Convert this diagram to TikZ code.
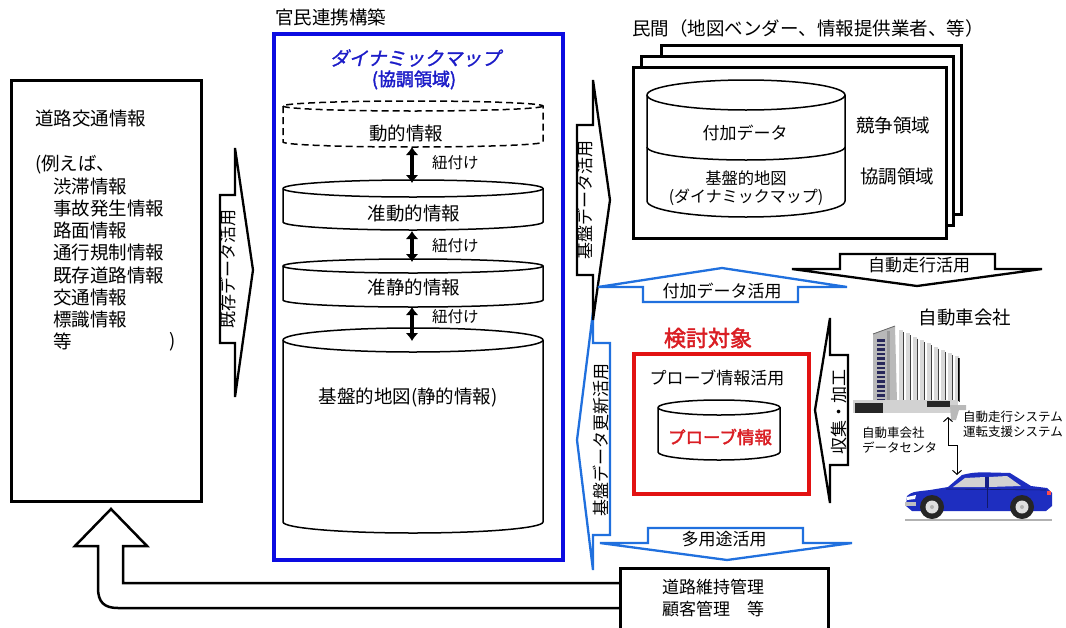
\documentclass[tikz,border=0pt]{standalone}
\usepackage{fontspec}
\setmainfont{Noto Sans CJK JP}
\newfontfamily\jpbold[FakeBold=2.2]{Noto Sans CJK JP}
\newfontfamily\jpslant[FakeSlant=0.22,FakeBold=1.2]{Noto Sans CJK JP}
\usetikzlibrary{arrows.meta}
\newcommand{\fsz}[1]{\fontsize{#1}{#1}\selectfont}
\definecolor{boxblue}{RGB}{12,12,225}
\definecolor{dynblue}{RGB}{28,28,200}
\definecolor{arrowblue}{RGB}{32,112,222}
\definecolor{redc}{RGB}{226,18,18}
\definecolor{redtext}{RGB}{218,30,36}
\definecolor{carblue}{RGB}{30,46,192}
\definecolor{navy}{RGB}{40,40,90}

% cylinder: style, x1, x2, rx, top cy, top ry, bottom cy, bottom ry
\newcommand{\drum}[8]{%
  \filldraw[#1] (#2,#5) -- (#2,#7)
    arc[start angle=180,end angle=0,x radius=#4,y radius=#8]
    -- (#3,#5) arc[start angle=0,end angle=-180,x radius=#4,y radius=#6] -- cycle;
  \draw[#1,fill=none] (#2,#5) arc[start angle=180,end angle=0,x radius=#4,y radius=#6];
}

\begin{document}
\begin{tikzpicture}[x=1pt,y=-1pt,
  txt/.style={inner sep=0pt},
  main/.style={txt,font=\fsz{18.5}},
  lab/.style={txt,font=\fsz{17}},
  small/.style={txt,font=\fsz{12.5}},
  frame/.style={draw,line width=2.5pt,fill=white,inner sep=0pt,anchor=north west},
  blk/.style={draw,line width=2.3pt,fill=white,line join=miter},
  bblk/.style={draw=arrowblue,line width=2.3pt,fill=white,line join=miter},
  can/.style={draw,line width=1.5pt,fill=white},
  dcan/.style={draw,line width=1.5pt,fill=white,dashed,dash pattern=on 7pt off 4pt},
  link/.style={line width=3.2pt,{Latex[length=8pt,width=13pt]}-{Latex[length=8pt,width=13pt]}},
  thinlink/.style={line width=1pt,{Straight Barb[length=4pt,width=9pt]}-{Straight Barb[length=4pt,width=9pt]}}
]
\clip (0,0) rectangle (1066,627);
\fill[white] (0,0) rectangle (1066,627);

% ---------- road traffic information (left) ----------
\node[frame,minimum width=190pt,minimum height=421pt] (road) at (10,79) {};
\node[main,anchor=west] (roadtitle) at (35,118) {道路交通情報};
\node[main,anchor=west] (ex0) at (35,165) {(例えば、};
\foreach \t [count=\i] in {渋滞情報,事故発生情報,路面情報,通行規制情報,既存道路情報,交通情報,標識情報,等}
  \node[main,anchor=west] (ex\i) at (53,164+22.2*\i) {\t};
\node[main] (exclose) at (173,342) {)};

% existing data arrow
\draw[blk] (220,195) -- (235,195) -- (235,148) -- (253,270) -- (235,397)
  -- (235,343) -- (220,343) -- cycle;
\node[lab,rotate=90] (kizon) at (228,269) {既存データ活用};

% ---------- dynamic map (public-private) ----------
\node[main,anchor=west] (kanmin) at (275,17) {官民連携構築};
\node[draw=boxblue,line width=4.5pt,inner sep=0pt,anchor=north west,
  minimum width=289pt,minimum height=526pt] (dmbox) at (271.5,31.5) {};
\node[txt,font=\jpslant\fsz{19},text=dynblue] (dyn) at (415,58) {ダイナミックマップ};
\node[txt,font=\jpbold\fsz{18},text=dynblue] (dynsub) at (414,80) {(協調領域)};

\drum{dcan}{283}{543}{130}{106}{5}{142}{5}
\node[main] (lay1) at (406,133) {動的情報};
\drum{can}{283}{543}{130}{188.5}{8.5}{222}{8}
\node[main] (lay2) at (414,213) {准動的情報};
\drum{can}{283}{543}{130}{266}{7}{300}{7}
\node[main] (lay3) at (414,287) {准静的情報};
\drum{can}{283}{543}{130}{340}{12}{522}{11}
\node[main] (lay4) at (408,397) {基盤的地図(静的情報)};

\coordinate (l1b) at (412,147);  \coordinate (l2t) at (412,183);
\coordinate (l2b) at (412,231);  \coordinate (l3t) at (412,262);
\coordinate (l3b) at (412,307);  \coordinate (l4t) at (412,341);
\draw[link] (l1b) -- (l2t);
\draw[link] (l2b) -- (l3t);
\draw[link] (l3b) -- (l4t);
\node[txt,font=\fsz{15.5},anchor=west] (tie1) at (432,163) {紐付け};
\node[txt,font=\fsz{15.5},anchor=west] (tie2) at (432,246) {紐付け};
\node[txt,font=\fsz{15.5},anchor=west] (tie3) at (432,317) {紐付け};

% ---------- arrows around the centre column ----------
\draw[bblk] (610,343) -- (593,343) -- (593,312) -- (577,440) -- (593,570)
  -- (593,535) -- (610,535) -- cycle;
\node[lab,rotate=90] (update) at (601,440) {基盤データ更新活用};

\draw[blk] (577,125) -- (593,125) -- (593,80) -- (610,200) -- (593,320)
  -- (593,275) -- (577,275) -- cycle;
\node[lab,rotate=90] (kiban) at (585,200) {基盤データ活用};

\draw[bblk] (643,302) -- (643,287) -- (598,287) -- (722,268) -- (847,287)
  -- (798,287) -- (798,302) -- cycle;
\node[lab] (fuka) at (722,291) {付加データ活用};

\draw[blk] (840,254) -- (995,254) -- (995,269) -- (1042,269) -- (917,286)
  -- (792,269) -- (840,269) -- cycle;
\node[lab] (jido) at (919,265) {自動走行活用};

\draw[bblk] (648,528) -- (803,528) -- (803,543) -- (852,543) -- (727,560)
  -- (600,543) -- (648,543) -- cycle;
\node[lab] (tayo) at (724,539) {多用途活用};

\draw[blk] (848,355) -- (830,355) -- (830,318) -- (815,410) -- (830,503)
  -- (830,465) -- (848,465) -- cycle;
\node[lab,rotate=90] (shuu) at (839,412) {収集・加工};

% ---------- private sector ----------
\node[main,anchor=west] (minkan) at (632,28) {民間（地図ベンダー、情報提供業者、等）};
\node[frame,minimum width=300pt,minimum height=169pt] (pv3) at (660,44) {};
\node[frame,minimum width=312pt,minimum height=169pt] (pv2) at (640,55) {};
\node[frame,minimum width=313pt,minimum height=171pt] (pv1) at (632,66) {};
\drum{can}{647}{845}{99}{95}{15}{201}{16}
\draw[line width=1.5pt] (647,147) arc[start angle=180,end angle=0,x radius=99,y radius=13];
\node[lab] (addd) at (745,133) {付加データ};
\node[txt,font=\fsz{16.3}] (basemap) at (746,178) {基盤的地図};
\node[txt,font=\fsz{16}] (basemap2) at (746,197) {(ダイナミックマップ)};
\node[main] (comp) at (893,125) {競争領域};
\node[main] (coop) at (897,177) {協調領域};

% ---------- probe information ----------
\node[txt,font=\jpbold\fsz{22},text=redtext] (kento) at (708,338) {検討対象};
\node[draw=redc,line width=4pt,inner sep=0pt,anchor=north west,
  minimum width=175pt,minimum height=140pt] (target) at (632,352) {};
\node[lab] (probeuse) at (717,378) {プローブ情報活用};
\drum{can}{658}{780}{61}{407.5}{7.5}{452}{8}
\node[txt,font=\jpbold\fsz{17.5},text=redtext] (probe) at (720,437) {プローブ情報};

% ---------- return path to road information ----------
\draw[line width=2.5pt,fill=white,line join=miter]
  (619,583) -- (123,583) -- (123,546) -- (147,546) -- (111,509) -- (75,546)
  -- (98,546) -- (98,588) .. controls (98,602) and (104,608) .. (118,608) -- (619,608);
\node[frame,minimum width=208pt,minimum height=80pt] (maint) at (619,567) {};
\node[lab,anchor=west] (mnt1) at (662,587) {道路維持管理};
\node[lab,anchor=west] (mnt2) at (662,609) {顧客管理　等};

% ---------- car maker ----------
\node[main] (maker) at (965,317) {自動車会社};
% building
\fill[gray!55] (873,334) -- (895,326) -- (897,402) -- (873,402) -- cycle;
\draw[black!60,line width=0.8pt] (873,334) -- (895,326);
\foreach \k in {0,...,13}
  \fill[navy] (877,339+4.6*\k) rectangle (885,341.6+4.6*\k);
\fill[gray!80] (887,331) rectangle (890,402);
\foreach \k in {0,...,8}{
  \fill[gray!30] (899+7*\k,330+3.3*\k) rectangle (903+7*\k,402);
  \draw[black!75,line width=0.9pt] (903.8+7*\k,332+3.3*\k) -- (903.8+7*\k,402);
}
\draw[black,line width=0.8pt] (958,358) -- (958,401);
\fill[gray!35] (853,400) rectangle (958,413);
\fill[black!85] (855,403) rectangle (883,413);
\fill[black!85] (927,401) rectangle (950,407);
\fill[gray!55] (950,405) -- (966,405) -- (966,410) -- (959,410) -- (956,420) -- (951,420) -- cycle;
\node[small,anchor=west] (dc1) at (862,433) {自動車会社};
\node[small,anchor=west] (dc2) at (862,448) {データセンタ};
\node[small,anchor=west] (sys1) at (963,417) {自動走行システム};
\node[small,anchor=west] (sys2) at (963,432) {運転支援システム};
% car
\fill[carblue] (906,506) -- (907,496) .. controls (912,492) .. (930,490) -- (948,487)
  -- (962,475) .. controls (975,472) .. (1010,473) -- (1031,486) -- (1047,488)
  -- (1052,493) -- (1052,506) -- (1046,511) -- (912,511) -- cycle;
\fill[gray!35] (953,487) -- (965,478) -- (985,477) -- (985,487) -- cycle;
\fill[gray!35] (989,477) -- (1007,476) -- (1021,486) -- (989,487) -- cycle;
\fill[carblue!70!black] (985,477) rectangle (989,488);
\draw[carblue!55!black,line width=0.6pt] (946,489) -- (1046,490);
\draw[carblue!55!black,line width=0.6pt] (987,488) -- (987,508);
\fill[white] (907,497) -- (916,495) -- (915,499) -- (907,500) -- cycle;
\fill[gray!50] (905,502) rectangle (916,506);
\fill[red!70] (1047,491) rectangle (1051,495);
\foreach \cx in {932,1022}{
  \fill[black!85] (\cx,507) circle (12);
  \fill[gray!25] (\cx,507) circle (6.5);
  \fill[gray!60] (\cx,507) circle (2);
}
\draw[gray!60,line width=2pt] (905,520) -- (1052,520);
\coordinate (dcport) at (948,417);
\coordinate (carroof) at (957,475);
\draw[thinlink] (dcport) -- ++(0,28) -| (carroof);
\end{tikzpicture}
\end{document}
